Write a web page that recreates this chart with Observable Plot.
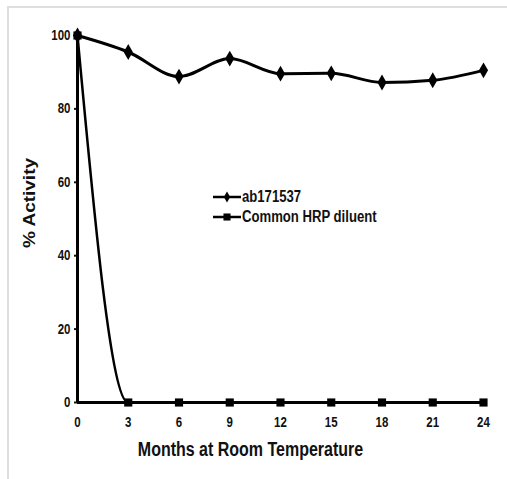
<!DOCTYPE html>
<html>
<head>
<meta charset="utf-8">
<script src="https://cdn.jsdelivr.net/npm/d3@7"></script>
<script src="https://cdn.jsdelivr.net/npm/@observablehq/plot@0.6"></script>
<style>
  html, body { margin: 0; padding: 0; background: #fff; }
  #wrap { position: relative; width: 507px; height: 479px; overflow: hidden; }
  #border { position: absolute; left: 7px; top: 6px; right: -4px; bottom: -4px;
            border-top: 2px solid #dedede; border-left: 2px solid #dedede; }
  #legend { position: absolute; left: 213px; top: 187px;
            font-family: "Liberation Sans", Arial, sans-serif;
            font-weight: bold; font-size: 16px; color: #111; }
  .item { display: flex; align-items: center; height: 20px; white-space: nowrap; }
  .item span { display: inline-block; transform: scaleX(0.82); transform-origin: left center; }
</style>
</head>
<body>
<div id="wrap"><div id="border"></div><div id="chart"></div><div id="legend"></div></div>
<script>
const months = [0, 3, 6, 9, 12, 15, 18, 21, 24];
const abValues = [100, 95.5, 88.8, 93.7, 89.6, 89.7, 87.2, 87.8, 90.5];
const hrpValues = [100, 0, 0, 0, 0, 0, 0, 0, 0];
const seriesNames = ["ab171537", "Common HRP diluent"];
const seriesSymbols = ["diamond", "square"];
const yTicks = [0, 20, 40, 60, 80, 100];
const xTicks = [0, 3, 6, 9, 12, 15, 18, 21, 24];
const xTitle = "Months at Room Temperature";
const yTitle = "% Activity";

const ab = months.map((m, i) => ({month: m, value: abValues[i], series: seriesNames[0]}));
const hrp = months.map((m, i) => ({month: m, value: hrpValues[i], series: seriesNames[1]}));

const font = '"Liberation Sans", Arial, sans-serif';

const chart = Plot.plot({
  width: 507,
  height: 479,
  marginLeft: 77,
  marginRight: 24,
  marginTop: 35,
  marginBottom: 77,
  style: {fontFamily: font, fontWeight: "bold", color: "#111", background: "transparent"},
  x: {domain: [0, 24]},
  y: {domain: [0, 100]},
  marks: [
    Plot.axisX({ticks: xTicks, tickSize: 0, tickPadding: 15, label: null, fontSize: 14, fontWeight: "bold"}),
    Plot.axisY({ticks: yTicks, tickSize: 3, tickPadding: 4, label: null, fontSize: 14, fontWeight: "bold", strokeWidth: 2}),
    Plot.ruleX([0], {stroke: "#000", strokeWidth: 3}),
    Plot.ruleY([0], {stroke: "#000", strokeWidth: 3}),
    Plot.line(hrp, {x: "month", y: "value", curve: "monotone-x", stroke: "#000", strokeWidth: 2.5}),
    Plot.line(ab, {x: "month", y: "value", curve: "monotone-x", stroke: "#000", strokeWidth: 3}),
    Plot.dot(hrp, {x: "month", y: "value", symbol: "square", r: 4.6, fill: "#000", stroke: "none"}),
    Plot.dot(ab, {x: "month", y: "value", symbol: "diamond", r: 4.8, fill: "#000", stroke: "none"}),
    Plot.text([xTitle], {frameAnchor: "bottom", dx: -30, dy: 53, fontSize: 19.5, fontWeight: "bold", fill: "#111"}),
    Plot.text([yTitle], {frameAnchor: "left", rotate: -90, dx: -47, dy: 29, fontSize: 19, fontWeight: "bold", fill: "#111"})
  ]
});

// horizontally condense all text (the original artwork is squeezed horizontally)
d3.select(chart).selectAll("text").each(function() {
  const t = d3.select(this);
  let tr = t.attr("transform") || "";
  const xa = t.attr("x");
  if (xa != null && isFinite(+xa) && +xa !== 0) {
    tr += ` translate(${+xa},0)`;
    t.attr("x", null);
  }
  const rotated = /rotate/.test(tr);
  t.attr("transform", `${tr} ${rotated ? "scale(1,0.82)" : "scale(0.82,1)"}`);
});
document.getElementById("chart").appendChild(chart);

// legend built from series names and symbols
const legend = document.getElementById("legend");
seriesNames.forEach((name, i) => {
  const item = document.createElement("div");
  item.className = "item";
  const sym = seriesSymbols[i] === "diamond" ? d3.symbolDiamond : d3.symbolSquare;
  const path = d3.symbol(sym, seriesSymbols[i] === "diamond" ? 34 : 50)();
  item.innerHTML = `<svg width="28" height="14" style="margin-right:1px"><line x1="0" x2="28" y1="7" y2="7" stroke="#000" stroke-width="2.5"/>` +
    `<path d="${path}" transform="translate(14,7)" fill="#000"/></svg><span>${name}</span>`;
  legend.appendChild(item);
});
</script>
</body>
</html>
